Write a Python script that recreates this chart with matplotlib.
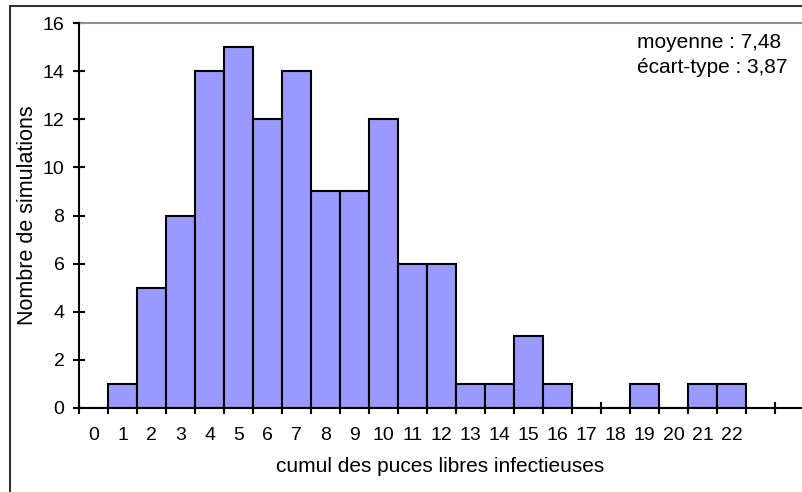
import matplotlib
matplotlib.use("Agg")
import matplotlib.pyplot as plt
from matplotlib.patches import Rectangle
import numpy as np

plt.rcParams['font.family'] = ['Liberation Sans', 'DejaVu Sans']

values = list(range(0, 23))
counts = [0, 1, 5, 8, 14, 15, 12, 14, 9, 9, 12, 6, 6, 1, 1, 3, 1, 0, 0, 1, 0, 1, 1]
tick_labels = [str(v) for v in values]
stats_lines = ["moyenne : 7,48", "écart-type : 3,87"]

W, H = 802, 492
fig = plt.figure(figsize=(W / 100, H / 100), dpi=100)
ax = fig.add_axes([79 / W, (H - 408) / H, (W - 79) / W, (408 - 23) / H])

ax.bar(np.array(values) + 0.5, counts, width=1.0, color='#9999FF',
       edgecolor='black', linewidth=1.5, zorder=3)

ax.set_xlim(0, (W - 79) / 29.0)
ax.set_ylim(0, 16)

ax.set_xticks(np.arange(0, 25))
ax.set_xticklabels([])
ax.set_xticks(np.array(values) + 0.5, minor=True)
ax.set_xticklabels(tick_labels, minor=True)
ax.tick_params(axis='x', which='major', direction='inout', length=9, width=1.5)
ax.tick_params(axis='x', which='minor', length=0, pad=14, labelsize=14)
ax.set_yticks(np.arange(0, 17, 2))
ax.tick_params(axis='y', direction='inout', length=9, width=1.5, labelsize=14, pad=6)

ax.spines['right'].set_visible(False)
ax.spines['top'].set_color('#909090')
ax.spines['top'].set_linewidth(1.5)
ax.spines['left'].set_linewidth(1.5)
ax.spines['bottom'].set_linewidth(1.5)
ax.spines['left'].set_zorder(4)
ax.spines['bottom'].set_zorder(4)

ax.set_xlabel("cumul des puces libres infectieuses", fontsize=15, labelpad=9)
ax.set_ylabel("Nombre de simulations", fontsize=15.5, labelpad=3)

for i, line in enumerate(stats_lines):
    fig.text(637 / W, 1 - (48 + 25 * i) / H, line, fontsize=15,
             va='baseline', ha='left')

fig.patches.append(Rectangle((10 / W, -0.1), 1.2, 1 - 6 / H + 0.1,
                             transform=fig.transFigure, fill=False,
                             edgecolor='#333333', linewidth=1.5))

fig.savefig("out.png", dpi=100)
